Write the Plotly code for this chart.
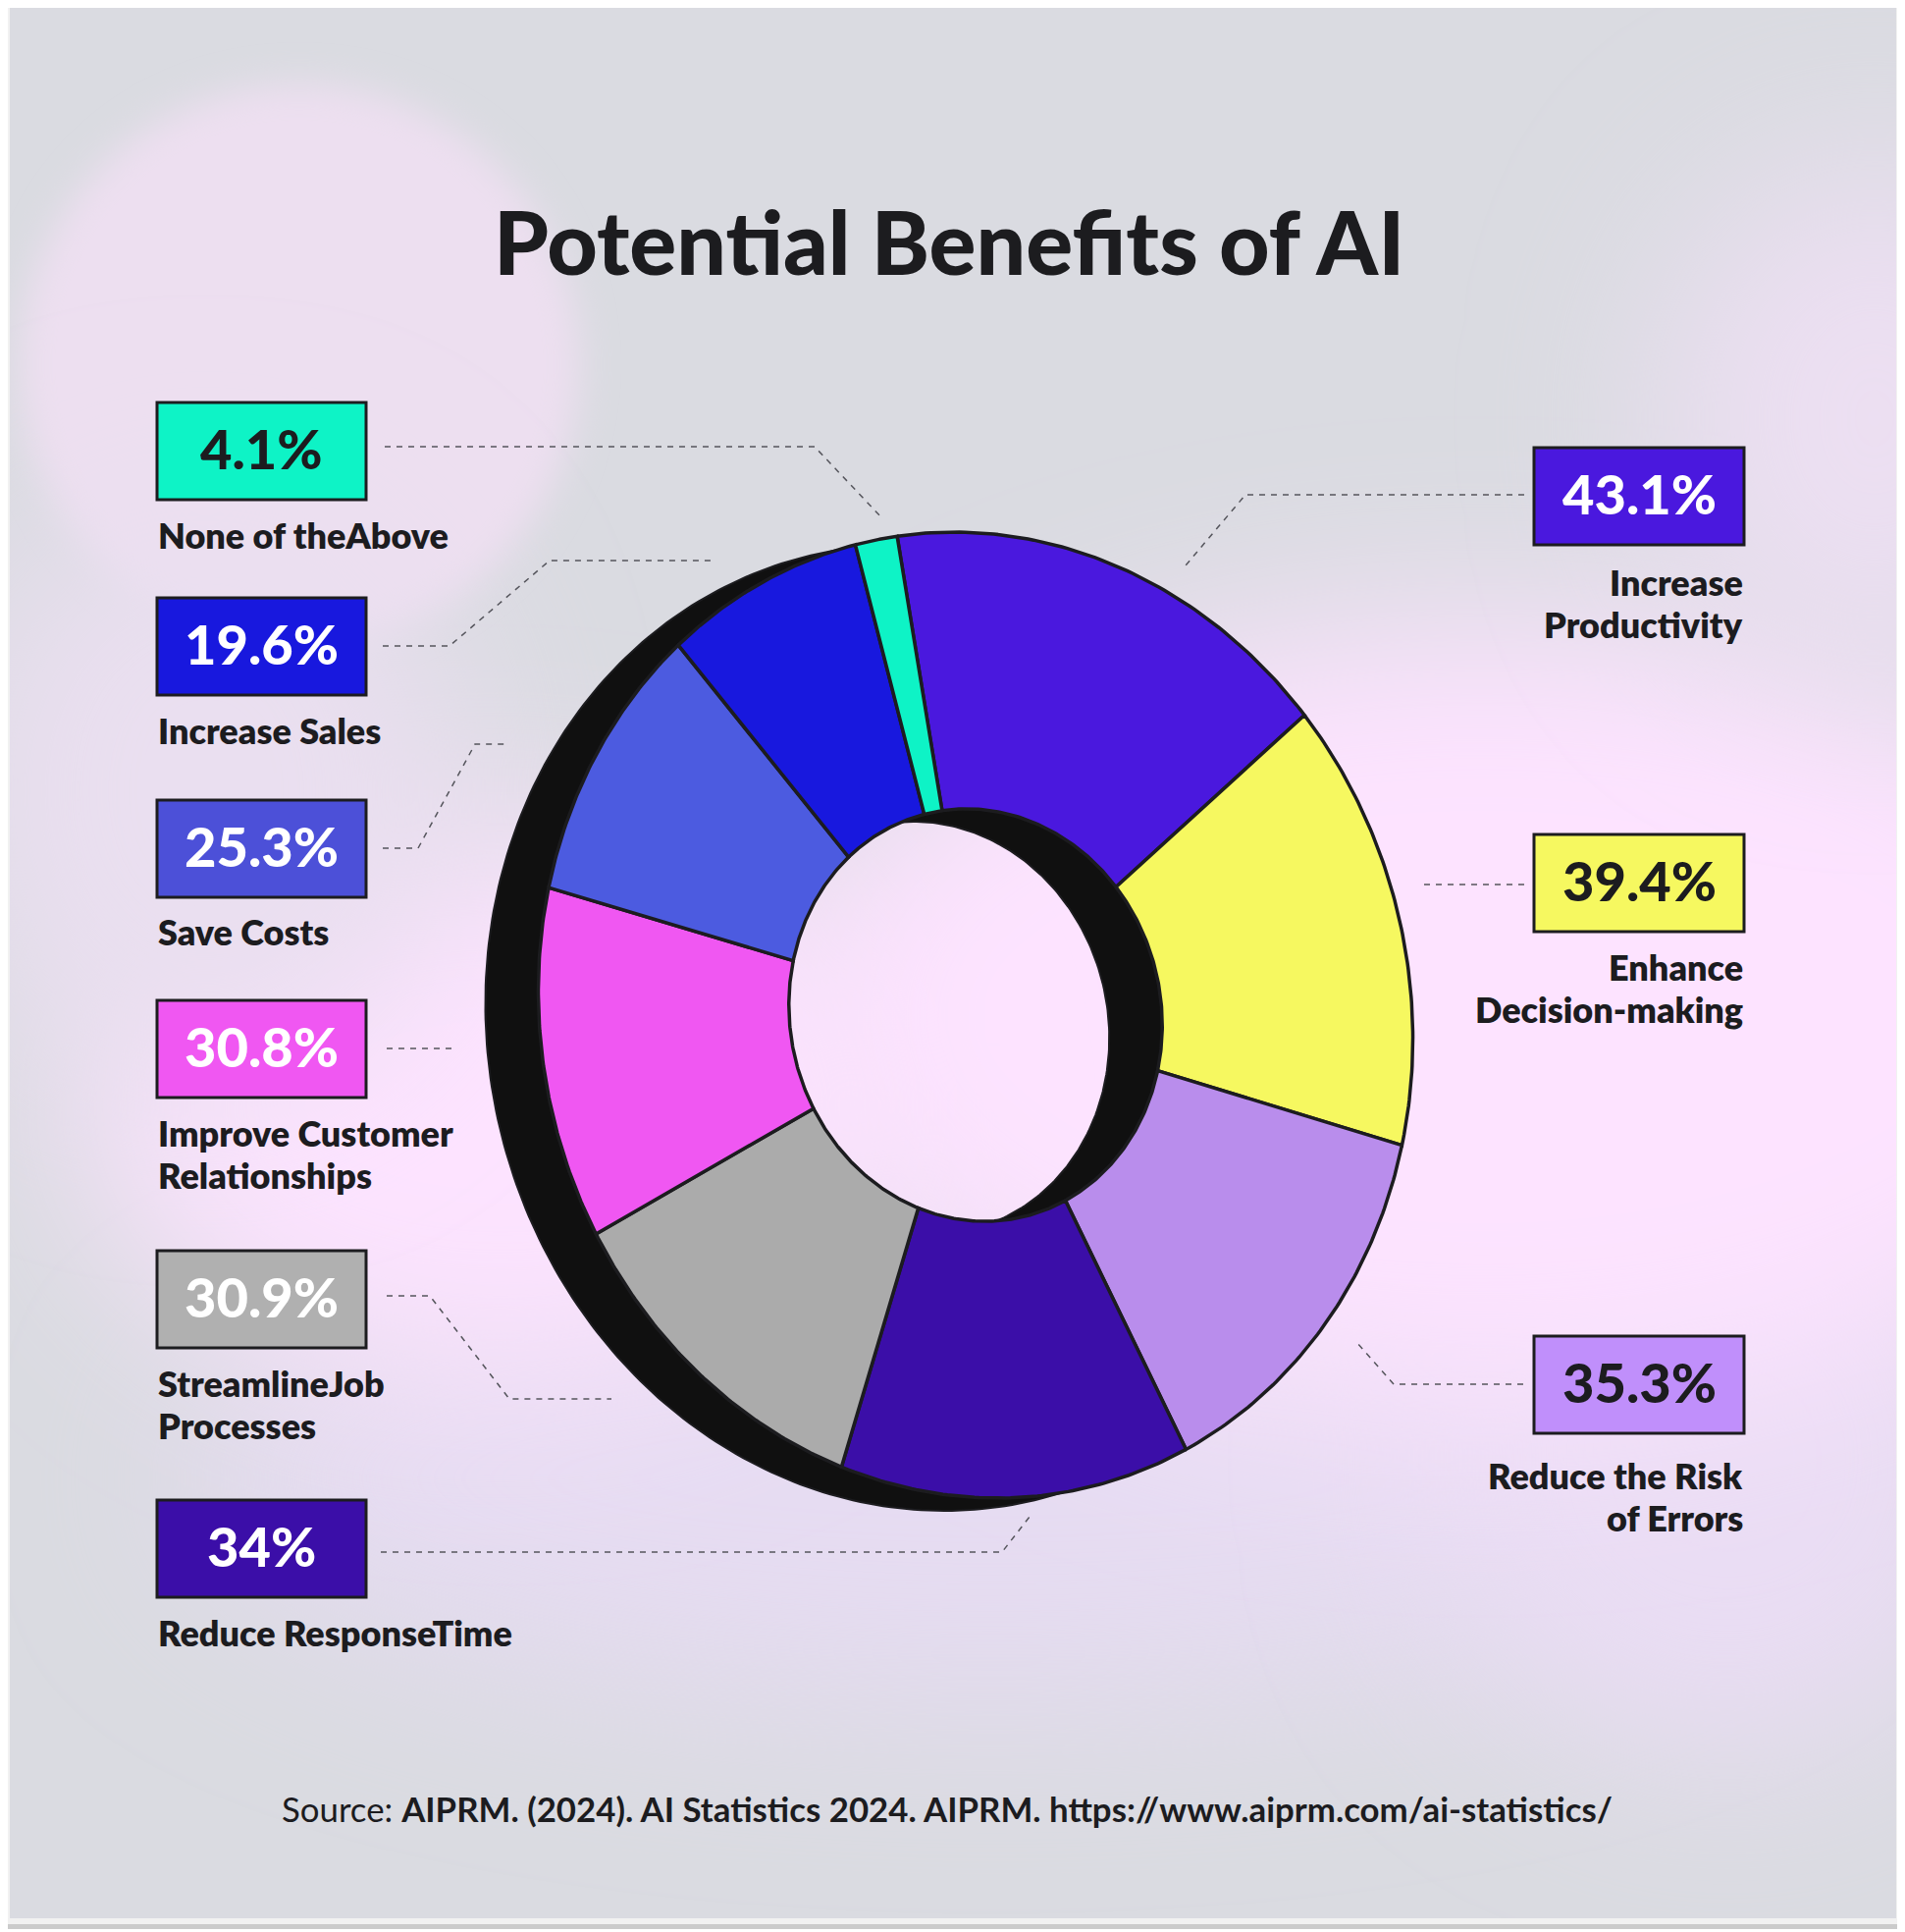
import base64
import numpy as np
import plotly.graph_objects as go

# data
categories = ["Increase Productivity", "Enhance Decision-making", "Reduce the Risk of Errors",
              "Reduce Response Time", "Streamline Job Processes", "Improve Customer Relationships",
              "Save Costs", "Increase Sales", "None of the Above"]
values = [43.1, 39.4, 35.3, 34, 30.9, 30.8, 25.3, 19.6, 4.1]
value_labels = ["43.1%", "39.4%", "35.3%", "34%", "30.9%", "30.8%", "25.3%", "19.6%", "4.1%"]
labels = ["Increase<br>Productivity", "Enhance<br>Decision-making", "Reduce the Risk<br>of Errors",
          "Reduce ResponseTime", "StreamlineJob<br>Processes", "Improve Customer<br>Relationships",
          "Save Costs", "Increase Sales", "None of theAbove"]
colors = ["#4a18de", "#f6f860", "#b98dec", "#3b0ea8", "#ababab", "#f057f2", "#4c5be0", "#1818de", "#0ef3c6"]
box_colors = ["#4a18de", "#f6f860", "#c08ffb", "#3b0ea8", "#b0b0b0", "#f057f2", "#4c50d8", "#1818de", "#0ef3c6"]
text_colors = ["white", "#1c1c1f", "#1c1c1f", "white", "white", "white", "white", "white", "#1c1c1f"]

# layout of the boxes, in page pixels
box_top = [456, 850, 1361, 1528, 1274, 1019, 815, 609, 410]
label_y = [614, 1006, 1524, 1663, 1430, 1175, 949, 744, 545]
on_right = [True, True, True, False, False, False, False, False, False]
leaders = [
    [(1553, 504), (1269, 504), (1208, 576)],
    [(1553, 901), (1450, 901)],
    [(1552, 1410), (1420, 1410), (1382, 1367)],
    [(388, 1581), (1021, 1581), (1049, 1545)],
    [(394, 1320), (438, 1320), (519, 1425), (623, 1425)],
    [(394, 1068), (463, 1068)],
    [(390, 864), (426, 864), (484, 758), (519, 758)],
    [(390, 658), (458, 658), (560, 571), (729, 571)],
    [(392, 455), (830, 455), (899, 528)],
]

INK = "#1c1c1f"
FONT = "Lato"
CX, CY = 994, 1034
RX, RY, SKEW = 445, 492, -22
HOLE = 0.427
DEPTH_X, DEPTH_Y = -54, 13
START = -7.5


def ellipse(theta, scale=1.0, dx=0, dy=0):
    # theta in degrees, clockwise from the top of the tilted disc
    t = np.radians(theta)
    x = CX + dx + scale * (RX * np.sin(t) + SKEW * np.cos(t))
    y = CY + dy - scale * RY * np.cos(t)
    return x, y


fig = go.Figure()

# leader lines
for pts in leaders:
    fig.add_trace(go.Scatter(x=[p[0] for p in pts], y=[p[1] for p in pts], mode="lines", hoverinfo="skip",
                             line=dict(color="#55555c", width=1.5, dash="6px,6px")))

# black back of the ring
ring = np.linspace(0, 360, 361)
ox, oy = ellipse(ring, 1.0, DEPTH_X, DEPTH_Y)
ix, iy = ellipse(ring[::-1], HOLE, DEPTH_X, DEPTH_Y)
fig.add_trace(go.Scatter(x=np.r_[ox, np.nan, ix], y=np.r_[oy, np.nan, iy], mode="lines", fill="toself",
                         fillcolor="#101010", line=dict(color=INK, width=2), hoverinfo="skip"))

# front of the ring: one wedge per value
edges = START + np.r_[0, np.cumsum(values)] / sum(values) * 360
for i, cat in enumerate(categories):
    arc = np.linspace(edges[i], edges[i + 1], 80)
    ox, oy = ellipse(arc)
    ix, iy = ellipse(arc[::-1], HOLE)
    fig.add_trace(go.Scatter(x=np.r_[ox, ix, ox[0]], y=np.r_[oy, iy, oy[0]], mode="lines", fill="toself",
                             fillcolor=colors[i], line=dict(color=INK, width=3.5), name=cat,
                             hovertemplate=cat + ": " + value_labels[i] + "<extra></extra>"))

shapes = [dict(type="rect", x0=8, x1=1933, y0=1960, y1=1965, fillcolor="#cbcbcb", line=dict(width=0))]
annotations = []
for i in range(len(categories)):
    x0, x1 = (1563, 1777) if on_right[i] else (160, 373)
    shapes.append(dict(type="rect", x0=x0, x1=x1, y0=box_top[i], y1=box_top[i] + 99,
                       fillcolor=box_colors[i], line=dict(color=INK, width=3)))
    annotations.append(dict(x=(x0 + x1) / 2, y=box_top[i] + 46, text=value_labels[i],
                            showarrow=False, font=dict(family=FONT, size=56, weight=900, color=text_colors[i])))
    # lines placed one by one, the spacing is tighter than plotly's own
    lines = labels[i].split("<br>")
    for k, line in enumerate(lines):
        annotations.append(dict(x=1778 if on_right[i] else 159, y=label_y[i] + (k - (len(lines) - 1) / 2) * 43,
                                text=line, showarrow=False, xanchor="right" if on_right[i] else "left",
                                font=dict(family=FONT, size=36, weight=800, color=INK)))

annotations.append(dict(x=967, y=245, text="Potential Benefits of AI", showarrow=False,
                        font=dict(family=FONT, size=89.5, weight=900, color=INK)))
annotations.append(dict(x=965, y=1842, showarrow=False, font=dict(family=FONT, size=34.8, color=INK),
                        text="Source: <b>AIPRM. (2024). AI Statistics 2024. AIPRM. https://www.aiprm.com/ai-statistics/</b>"))

# soft background
svg = """<svg xmlns="http://www.w3.org/2000/svg" width="1922" height="1948" viewBox="0 0 1922 1948">
<defs><filter id="b" x="-50%" y="-50%" width="200%" height="200%"><feGaussianBlur stdDeviation="90"/></filter>
<filter id="c" x="-50%" y="-50%" width="200%" height="200%"><feGaussianBlur stdDeviation="18"/></filter></defs>
<rect width="1922" height="1948" fill="#dadbe1"/>
<ellipse cx="1000" cy="1500" rx="820" ry="230" fill="#e6dcf2" filter="url(#b)"/>
<ellipse cx="1750" cy="1480" rx="300" ry="300" fill="#eaddf4" filter="url(#b)"/>
<ellipse cx="1500" cy="1030" rx="720" ry="400" fill="#fde3ff" filter="url(#b)"/>
<ellipse cx="500" cy="1120" rx="420" ry="280" fill="#fde3ff" filter="url(#b)"/>
<ellipse cx="1900" cy="420" rx="220" ry="260" fill="#ecdff2" filter="url(#b)"/>
<circle cx="295" cy="365" r="285" fill="#eddff0" filter="url(#c)"/>
<ellipse cx="200" cy="800" rx="260" ry="300" fill="#eadff0" filter="url(#b)"/>
</svg>"""
bg = "data:image/svg+xml;base64," + base64.b64encode(svg.encode()).decode()

fig.update_layout(
    width=1925, height=1957, margin=dict(l=0, r=0, t=0, b=0), showlegend=False,
    paper_bgcolor="#f1f1f1", plot_bgcolor="rgba(0,0,0,0)",
    xaxis=dict(range=[8, 1933], visible=False, fixedrange=True),
    yaxis=dict(range=[1965, 8], visible=False, fixedrange=True),
    shapes=shapes, annotations=annotations,
    images=[dict(source=bg, xref="x", yref="y", x=10, y=6, sizex=1922, sizey=1948, xanchor="left",
                 yanchor="top", sizing="stretch", layer="below")],
)

fig.write_html("out.html")
